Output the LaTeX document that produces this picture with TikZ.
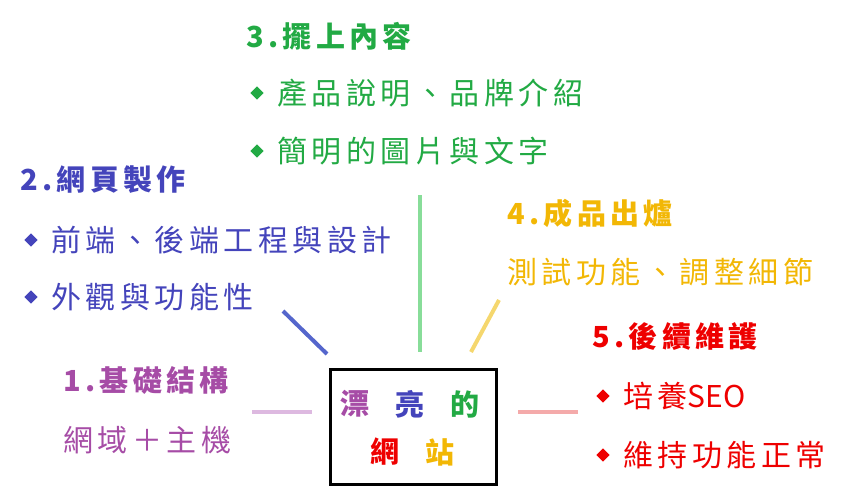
\documentclass[tikz,border=0pt]{standalone}
\usepackage{fontspec}
\setmainfont{Noto Sans CJK TC}[LetterSpace=15]
\newfontfamily\plain{Noto Sans CJK TC}
\begin{document}
\begin{tikzpicture}[x=1pt,y=-1pt,
  txt/.style={anchor=west,inner sep=0pt,font=\fontsize{30}{32}\selectfont},
  hdr/.style={anchor=west,inner sep=0pt,font=\fontsize{29}{32}\selectfont\bfseries},
  bul/.style={draw=none,fill=#1,rotate=45,minimum size=9.5pt,inner sep=0pt},
  ln/.style={line width=4pt,draw=#1}]
\useasboundingbox (0,0) rectangle (850,500);
\definecolor{cpu}{HTML}{A64CA6}\definecolor{cbl}{HTML}{4444BB}
\definecolor{cgr}{HTML}{22AA44}\definecolor{cgo}{HTML}{F2B705}
\definecolor{cre}{HTML}{EE0000}
\definecolor{lpu}{HTML}{DDB9E0}\definecolor{lbl}{HTML}{5566CC}
\definecolor{lgr}{HTML}{88DD99}\definecolor{lgo}{HTML}{F5D76E}
\definecolor{lre}{HTML}{F4AAAA}
\node[draw=black,line width=3pt,minimum width=166pt,minimum height=115pt] (box) at (413,427) {};
\node[inner sep=0,font=\fontsize{29}{30}\selectfont\bfseries,text=cpu] at (355,404) {漂};
\node[inner sep=0,font=\fontsize{29}{30}\selectfont\bfseries,text=cbl] at (410,404) {亮};
\node[inner sep=0,font=\fontsize{29}{30}\selectfont\bfseries,text=cgr] at (465,404) {的};
\node[inner sep=0,font=\fontsize{29}{30}\selectfont\bfseries,text=cre] at (385,452) {網};
\node[inner sep=0,font=\fontsize{29}{30}\selectfont\bfseries,text=cgo] at (440,452) {站};
% lines
\coordinate (l1a) at (252,412); \coordinate (l1b) at (312,412);
\coordinate (l2a) at (283,311); \coordinate (l2b) at (327,354);
\coordinate (l3a) at (420,195); \coordinate (l3b) at (420,352);
\coordinate (l4a) at (499,300); \coordinate (l4b) at (471,352);
\coordinate (l5a) at (518,412); \coordinate (l5b) at (578,412);
\draw[ln=lpu] (l1a)--(l1b);
\draw[ln=lbl] (l2a)--(l2b);
\draw[ln=lgr] (l3a)--(l3b);
\draw[ln=lgo] (l4a)--(l4b);
\draw[ln=lre] (l5a)--(l5b);
% 1
\node[hdr,text=cpu] (h1) at (63,381) {1.基礎結構};
\node[txt,text=cpu] (t1) at (63,440) {網域＋主機};
% 2
\node[hdr,text=cbl] (h2) at (20,180) {2.網頁製作};
\node[bul=cbl] (b21) at (31,240) {}; \node[txt,text=cbl] (t21) at (51,240) {前端、後端工程與設計};
\node[bul=cbl] (b22) at (31,297) {}; \node[txt,text=cbl] (t22) at (51,297) {外觀與功能性};
% 3
\node[hdr,text=cgr] (h3) at (246,36) {3.擺上內容};
\node[bul=cgr] (b31) at (257,93) {}; \node[txt,text=cgr] (t31) at (277,93) {產品說明、品牌介紹};
\node[bul=cgr] (b32) at (257,151) {}; \node[txt,text=cgr] (t32) at (277,151) {簡明的圖片與文字};
% 4
\node[hdr,text=cgo] (h4) at (507,213) {4.成品出爐};
\node[txt,text=cgo] (t4) at (507,272) {測試功能、調整細節};
% 5
\node[hdr,text=cre] (h5) at (592,337) {5.後續維護};
\node[bul=cre] (b51) at (603,396) {}; \node[txt,text=cre] (t51) at (623,396) {培養\plain SEO};
\node[bul=cre] (b52) at (603,455) {}; \node[txt,text=cre] (t52) at (623,455) {維持功能正常};
\end{tikzpicture}
\end{document}
